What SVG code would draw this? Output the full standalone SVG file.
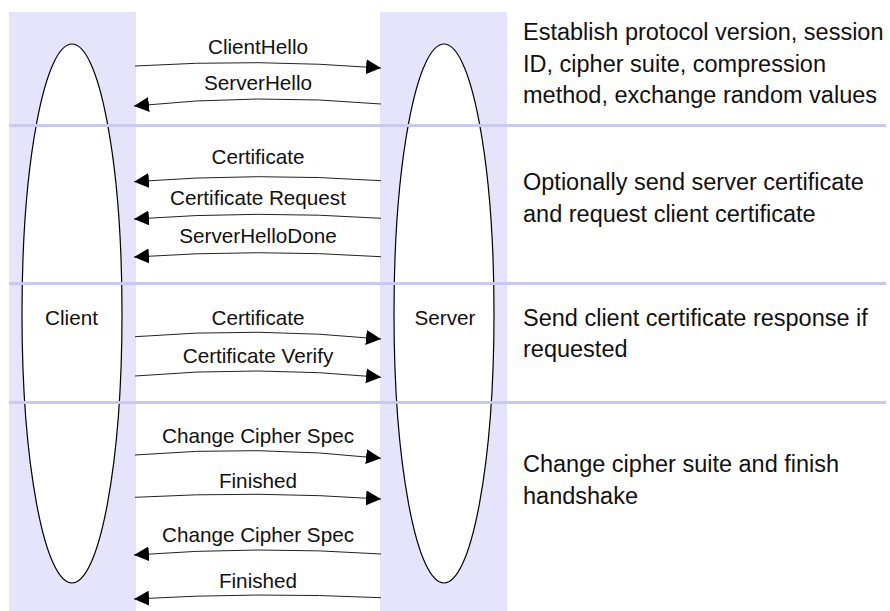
<svg xmlns="http://www.w3.org/2000/svg" width="890" height="611" viewBox="0 0 890 611">
<style>
  .col { fill: #e4e4fa; stroke: none; }
  .node { fill: #ffffff; stroke: #000000; stroke-width: 1.2; }
  .sep { stroke: #c8c8f0; stroke-width: 3; fill: none; }
  .msg { fill: none; stroke: #222222; stroke-width: 1; marker-end: url(#ah); }
  .lbl { font-family: "Liberation Sans", Arial, sans-serif; font-size: 20.7px; fill: #111111; text-anchor: middle; }
  .desc { font-family: "Liberation Sans", Arial, sans-serif; font-size: 23.5px; fill: #111111; }
</style>
<defs>
  <marker id="ah" markerUnits="userSpaceOnUse" markerWidth="16" markerHeight="16" refX="15" refY="7.5" orient="auto">
    <path d="M0,0 L15,7.5 L0,15 Z" fill="#000000"/>
  </marker>
</defs>
<rect width="890" height="611" fill="#ffffff"/>

<g id="client">
  <rect class="col" x="9" y="12" width="127" height="599"/>
  <ellipse class="node" cx="72" cy="313.5" rx="50" ry="269.5"/>
  <text class="lbl" x="71.5" y="325">Client</text>
</g>
<g id="server">
  <rect class="col" x="380" y="12" width="127" height="599"/>
  <ellipse class="node" cx="444" cy="313.5" rx="50" ry="269.5"/>
  <text class="lbl" x="445" y="325">Server</text>
</g>

<g id="separators">
  <line class="sep" x1="9" y1="125.5" x2="886" y2="125.5"/>
  <line class="sep" x1="9" y1="283.5" x2="886" y2="283.5"/>
  <line class="sep" x1="9" y1="402.5" x2="886" y2="402.5"/>
</g>

<g id="connectors">
  <path class="msg" d="M135,66 Q258,58.4 381,68"/>
  <path class="msg" d="M381,104 Q258,93 134,106"/>
  <path class="msg" d="M381,180.7 Q258,172.2 134,181.7"/>
  <path class="msg" d="M381,218.3 Q258,210 134,219"/>
  <path class="msg" d="M381,256.7 Q258,248.6 134,257"/>
  <path class="msg" d="M135,336.7 Q258,326.7 381,339"/>
  <path class="msg" d="M135,376 Q258,365.3 381,377.3"/>
  <path class="msg" d="M135,455 Q258,444.7 381,458.3"/>
  <path class="msg" d="M135,497.3 Q258,490.4 381,499"/>
  <path class="msg" d="M381,554 Q258,545.5 134,555"/>
  <path class="msg" d="M381,597.7 Q258,591.7 134,599"/>
</g>

<g id="message-labels">
  <text class="lbl" x="258" y="54">ClientHello</text>
  <text class="lbl" x="258" y="90">ServerHello</text>
  <text class="lbl" x="258" y="164.3">Certificate</text>
  <text class="lbl" x="258" y="205">Certificate Request</text>
  <text class="lbl" x="258" y="243.3">ServerHelloDone</text>
  <text class="lbl" x="258" y="325">Certificate</text>
  <text class="lbl" x="258" y="363.3">Certificate Verify</text>
  <text class="lbl" x="258" y="443.3">Change Cipher Spec</text>
  <text class="lbl" x="258" y="488.3">Finished</text>
  <text class="lbl" x="258" y="541.7">Change Cipher Spec</text>
  <text class="lbl" x="258" y="587.7">Finished</text>
</g>

<g id="descriptions">
  <text class="desc" x="523" y="39.5">Establish protocol version, session</text>
  <text class="desc" x="523" y="71.5">ID, cipher suite, compression</text>
  <text class="desc" x="523" y="103">method, exchange random values</text>
  <text class="desc" x="523" y="190">Optionally send server certificate</text>
  <text class="desc" x="523" y="221.7">and request client certificate</text>
  <text class="desc" x="523" y="325.7">Send client certificate response if</text>
  <text class="desc" x="523" y="357.3">requested</text>
  <text class="desc" x="523" y="472.3">Change cipher suite and finish</text>
  <text class="desc" x="523" y="504">handshake</text>
</g>
</svg>
